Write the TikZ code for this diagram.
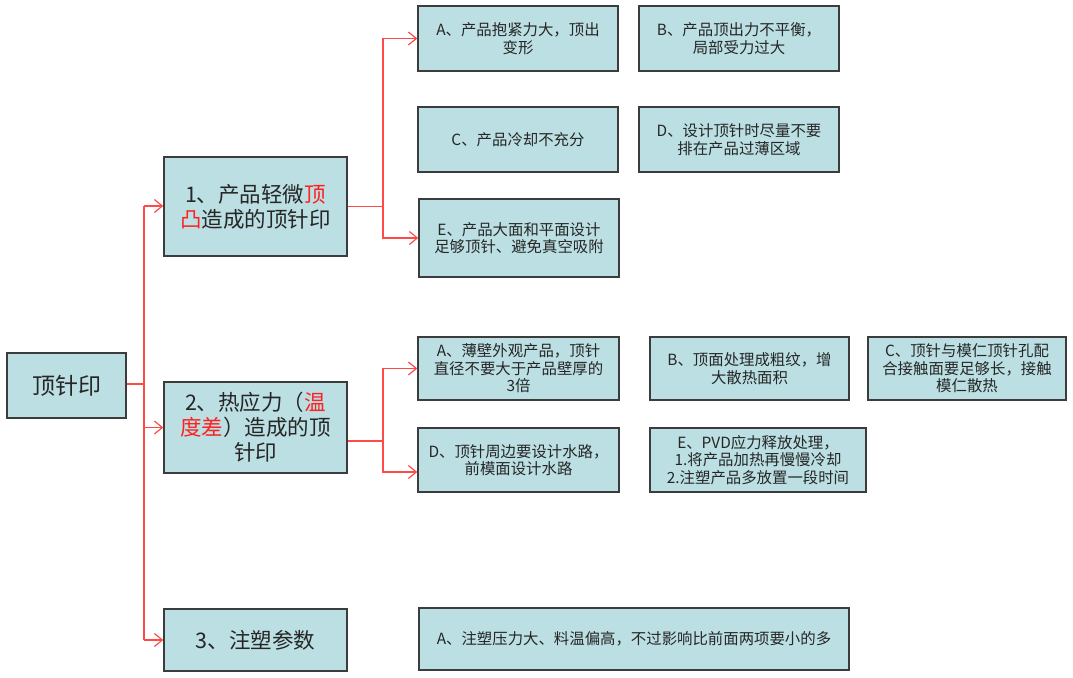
\documentclass[tikz,border=0pt]{standalone}
\usepackage{fontspec}
\setmainfont{Noto Sans CJK SC}
\usetikzlibrary{arrows.meta}
\definecolor{boxfill}{HTML}{BBDFE2}
\definecolor{boxline}{HTML}{3C3C3C}
\definecolor{conn}{HTML}{FF4A4A}
\definecolor{hl}{HTML}{FF2020}
\tikzset{
  box/.style={draw=boxline, line width=1.4pt, fill=boxfill, align=center, inner sep=0pt, text=black!85},
  small/.style={box, font=\fontsize{15.4}{17.5}\selectfont},
  big/.style={box, font=\fontsize{21.5}{25}\selectfont},
  arr/.style={draw=conn, line width=1.3pt, -{Straight Barb[length=8pt,width=13pt,line width=1.2pt]}},
  ln/.style={draw=conn, line width=1.3pt}
}
\begin{document}
\begin{tikzpicture}[x=1pt,y=-1pt]
\useasboundingbox (0,0) rectangle (1073,677);
% level 0
\node[box, font=\fontsize{23}{26}\selectfont, minimum width=119pt, minimum height=65pt] (root) at (66.5,385.5) {顶针印};
% level 1
\node[big, minimum width=183pt, minimum height=99pt] (b1) at (255.5,206.5) {1、产品轻微\textcolor{hl}{顶}\\\textcolor{hl}{凸}造成的顶针印};
\node[big, minimum width=183pt, minimum height=91pt] (b2) at (255.5,427.5) {2、热应力（\textcolor{hl}{温}\\\textcolor{hl}{度差}）造成的顶\\针印};
\node[big, minimum width=183pt, minimum height=62pt] (b3) at (255.5,640) {3、注塑参数};
% group 1
\node[small, minimum width=200pt, minimum height=65pt] (a1) at (518,38.5) {A、产品抱紧力大，顶出\\变形};
\node[small, minimum width=200pt, minimum height=65pt] (bb1) at (739,38.5) {B、产品顶出力不平衡，\\局部受力过大};
\node[small, minimum width=200pt, minimum height=65pt] (c1) at (518,139.5) {C、产品冷却不充分};
\node[small, minimum width=200pt, minimum height=65pt] (d1) at (739,139.5) {D、设计顶针时尽量不要\\排在产品过薄区域};
\node[small, minimum width=200pt, minimum height=78pt] (e1) at (519,238) {E、产品大面和平面设计\\足够顶针、避免真空吸附};
% group 2
\node[small, minimum width=201pt, minimum height=63pt] (a2) at (518.5,368.5) {A、薄壁外观产品，顶针\\直径不要大于产品壁厚的\\3倍};
\node[small, minimum width=199pt, minimum height=63pt] (bb2) at (749.5,368.5) {B、顶面处理成粗纹，增\\大散热面积};
\node[small, minimum width=198pt, minimum height=63pt] (c2) at (967,368.5) {C、顶针与模仁顶针孔配\\合接触面要足够长，接触\\模仁散热};
\node[small, minimum width=201pt, minimum height=64pt] (d2) at (518.5,460) {D、顶针周边要设计水路，\\前模面设计水路};
\node[small, minimum width=216pt, minimum height=64pt] (e2) at (758,460) {E、PVD应力释放处理，\\1.将产品加热再慢慢冷却\\2.注塑产品多放置一段时间};
% group 3
\node[small, minimum width=430pt, minimum height=62pt] (a3) at (634,639) {A、注塑压力大、料温偏高，不过影响比前面两项要小的多};
% connectors level 0 -> 1
\coordinate (t0) at (144,384);
\draw[ln] (root.east |- t0) -- (t0);
\draw[ln] (t0) -- (144,206);
\draw[ln] (t0) -- (144,640);
\draw[arr] (144,206) -- (b1.west |- 144,206);
\draw[arr] (t0) |- (b2.west);
\draw[arr] (144,640) -- (b3.west);
% connectors 1 -> group 1
\coordinate (t1) at (383,206.5);
\draw[ln] (b1.east |- t1) -- (t1);
\draw[arr] (t1) |- (a1.west);
\draw[arr] (t1) |- (e1.west);
% connectors 2 -> group 2
\coordinate (t2) at (383,441);
\draw[ln] (b2.east |- t2) -- (t2);
\draw[arr] (t2) |- (a2.west);
\draw[arr] (t2) |- ([yshift=-12pt]d2.west);
\end{tikzpicture}
\end{document}
